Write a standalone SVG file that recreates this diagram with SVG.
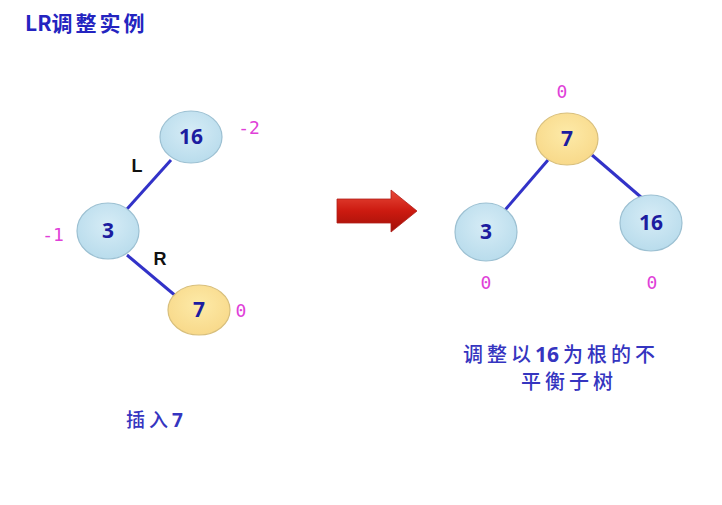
<svg xmlns="http://www.w3.org/2000/svg" width="722" height="505" viewBox="0 0 722 505">
<defs>
<radialGradient id="gb" cx="50%" cy="40%" r="60%"><stop offset="0" stop-color="#d6ecf6"/><stop offset="1" stop-color="#b9dcec"/></radialGradient>
<radialGradient id="gy" cx="50%" cy="40%" r="60%"><stop offset="0" stop-color="#fdeaa8"/><stop offset="1" stop-color="#f8d98a"/></radialGradient>
<linearGradient id="gr" x1="0" y1="0" x2="0" y2="1"><stop offset="0" stop-color="#e84a3a"/><stop offset="0.5" stop-color="#cc1a10"/><stop offset="1" stop-color="#a01008"/></linearGradient>
<style>
.nb{fill:url(#gb);stroke:#9cc0d2;stroke-width:1.2}
.ny{fill:url(#gy);stroke:#d8bf7c;stroke-width:1.2}
.num{font-family:"Open Sans","DejaVu Sans",sans-serif;font-weight:bold;font-size:21px;fill:#1c1ca0;text-anchor:middle}
.bf{font-family:"DejaVu Sans Mono","Liberation Mono",monospace;font-size:18px;fill:#e040d8;text-anchor:middle}
.lr{font-family:"Liberation Sans","DejaVu Sans",sans-serif;font-weight:bold;font-size:18px;fill:#111;text-anchor:middle}
.cn{font-family:"Noto Sans CJK SC","Noto Sans",sans-serif;font-size:20px;font-weight:500;fill:#3535c0;letter-spacing:4px}
.d{font-family:"Open Sans","DejaVu Sans",sans-serif;font-weight:bold;letter-spacing:0}
.edge{stroke:#3232c8;stroke-width:3;fill:none}
</style>
</defs>
<rect width="722" height="505" fill="#ffffff"/>
<text x="25" y="31" class="cn" style="font-weight:bold;font-size:21px;fill:#2424c0;letter-spacing:3px"><tspan style="letter-spacing:0">LR</tspan>调整实例</text>
<g id="connectors">
<line class="edge" x1="171" y1="160" x2="127" y2="209"/>
<line class="edge" x1="127" y1="255" x2="177" y2="297"/>
<line class="edge" x1="548" y1="160" x2="505" y2="210"/>
<line class="edge" x1="592" y1="155" x2="642" y2="198"/>
</g>
<g id="node-16-left"><ellipse class="nb" cx="191" cy="137" rx="31" ry="26"/><text class="num" x="191" y="144">16</text></g>
<g id="node-3-left"><ellipse class="nb" cx="108" cy="231" rx="31" ry="28"/><text class="num" x="108" y="238">3</text></g>
<g id="node-7-left"><ellipse class="ny" cx="199" cy="310" rx="31" ry="25"/><text class="num" x="199" y="317">7</text></g>
<g id="node-7-right"><ellipse class="ny" cx="567" cy="139" rx="31" ry="26"/><text class="num" x="567" y="146">7</text></g>
<g id="node-3-right"><ellipse class="nb" cx="486" cy="232" rx="31" ry="29"/><text class="num" x="486" y="239">3</text></g>
<g id="node-16-right"><ellipse class="nb" cx="651" cy="223" rx="31" ry="28"/><text class="num" x="651" y="230">16</text></g>
<g id="labels">
<text class="bf" x="249" y="134">-2</text>
<text class="bf" x="53" y="241">-1</text>
<text class="bf" x="241" y="317">0</text>
<text class="bf" x="562" y="98">0</text>
<text class="bf" x="486" y="289">0</text>
<text class="bf" x="652" y="289">0</text>
<text class="lr" x="137" y="172">L</text>
<text class="lr" x="160" y="265">R</text>
</g>
<g id="arrow"><path d="M337,199 L391,199 L391,190 L417,211 L391,232 L391,223 L337,223 Z" fill="url(#gr)" stroke="#b0201a" stroke-width="0.8"/></g>
<text x="126" y="427" class="cn" style="font-size:19px">插入<tspan class="d">7</tspan></text>
<text x="463" y="362" class="cn">调整以<tspan class="d" style="font-size:21px">16</tspan><tspan dx="4">为根的不</tspan></text>
<text x="521" y="389" class="cn">平衡子树</text>
</svg>
